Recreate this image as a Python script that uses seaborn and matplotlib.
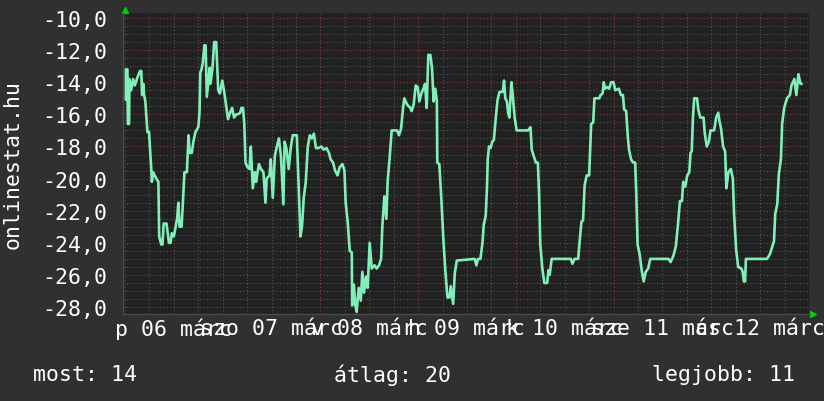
import matplotlib
matplotlib.use("Agg")
import matplotlib.pyplot as plt
import seaborn as sns
import numpy as np
import pandas as pd

# hours since 2015-03-06 00:00 and temperature (°C)
hours = [0.2, 0.2, 0.6, 0.7, 1.0, 1.1, 1.5, 2.0, 2.4, 3.2, 3.7, 4.0, 4.2, 4.5, 4.7, 5.0,
         5.5, 5.9, 6.5, 6.6, 6.9, 7.7, 8.2, 8.4, 8.9, 9.2, 9.5, 10.2, 10.8, 11.2, 11.5,
         12.0, 12.8, 13.1, 13.4, 13.9, 14.2, 14.6, 15.2, 15.6, 15.9, 16.4, 16.8, 17.3,
         18.0, 18.3, 18.5, 18.8, 19.1, 19.5, 19.8, 20.1, 20.8, 21.0, 21.5, 21.9, 22.4,
         22.9, 23.3, 23.9, 24.3, 24.7, 25.3, 25.8, 26.3, 26.8, 27.3, 27.7, 28.3, 28.6,
         29.0, 29.3, 29.6, 30.1, 30.6, 30.9, 31.4, 31.9, 32.2, 32.5, 32.9, 33.4, 34.0,
         34.5, 34.8, 35.5, 35.8, 36.3, 36.8, 37.3, 37.8, 38.3, 38.9, 39.2, 39.7, 40.2,
         40.7, 41.2, 42.2, 42.7, 43.1, 43.5, 43.9, 44.4, 44.9, 45.4, 45.9, 46.4, 46.9,
         47.5, 48.2, 48.8, 49.5, 50.1, 50.5, 51.1, 51.6, 52.2, 52.7, 53.4, 53.9, 54.2,
         54.7, 55.2, 55.7, 55.8, 56.2, 56.6, 56.9, 57.4, 57.9, 58.3, 58.7, 59.2, 59.6,
         60.1, 60.6, 61.3, 61.8, 62.4, 62.9, 63.2, 63.7, 64.2, 64.5, 65.0, 65.5, 66.8,
         67.3, 67.8, 68.3, 68.6, 69.3, 70.1, 70.4, 70.9, 71.4, 71.9, 72.3, 72.8, 73.3,
         73.7, 74.1, 74.5, 75.0, 75.4, 75.8, 76.2, 76.6, 76.7, 77.2, 77.7, 78.2, 78.7,
         79.2, 79.7, 80.0, 80.6, 81.0, 81.5, 85.9, 86.3, 86.7, 87.3, 87.8, 88.1, 88.6,
         88.9, 89.1, 89.4, 89.8, 90.2, 90.6, 91.0, 91.5, 92.0, 92.8, 93.1, 93.4, 93.8,
         94.1, 94.4, 94.9, 95.2, 95.7, 96.2, 99.0, 99.6, 99.9, 100.4, 100.9, 101.4,
         101.7, 102.0, 102.5, 103.0, 103.7, 104.0, 104.3, 104.8, 109.5, 109.9, 110.4,
         111.3, 111.6, 112.1, 112.5, 112.9, 113.4, 114.0, 114.5, 115.0, 115.3, 116.5,
         116.8, 117.3, 117.6, 117.9, 118.4, 118.9, 119.4, 120.0, 120.4, 121.3, 121.8,
         122.3, 122.6, 123.1, 123.5, 123.8, 124.3, 124.8, 125.3, 125.6, 125.9, 126.4,
         126.9, 127.4, 127.9, 128.5, 129.0, 133.5, 134.0, 134.7, 135.3, 135.8, 136.3,
         136.8, 137.1, 137.6, 138.1, 138.6, 138.9, 139.2, 139.5, 139.8, 140.5, 140.8,
         141.3, 142.1, 142.4, 142.9, 143.4, 143.8, 144.7, 145.2, 145.7, 146.0, 146.4,
         146.9, 147.4, 147.7, 148.2, 148.8, 149.3, 149.6, 150.1, 150.6, 151.4, 151.7,
         152.0, 152.3, 152.5, 157.7, 158.4, 158.9, 159.4, 159.7, 160.2, 160.6, 161.1,
         161.4, 161.9, 162.6, 163.3, 163.7, 164.4, 164.9, 165.4, 165.9, 166.2]
temps = [-15.1, -13.2, -13.2, -16.6, -16.6, -13.8, -14.5, -13.8, -14.2, -13.6, -13.3,
         -13.3, -14.8, -14.1, -14.8, -15.2, -17.1, -17.1, -19.6, -20.2, -19.6, -20.0,
         -20.2, -23.6, -24.1, -24.1, -22.8, -22.8, -24.0, -24.0, -23.4, -23.6, -22.5,
         -21.5, -23.0, -23.0, -21.6, -19.6, -19.6, -17.3, -18.4, -18.4, -17.7, -17.1,
         -16.8, -15.9, -13.4, -13.2, -12.8, -11.7, -11.7, -14.9, -13.1, -14.1, -13.1,
         -11.5, -11.5, -14.5, -14.7, -13.9, -14.5, -15.2, -16.3, -15.9, -15.6, -16.2,
         -16.0, -16.0, -15.9, -15.6, -15.6, -16.6, -19.0, -19.3, -19.4, -18.0, -20.6,
         -19.6, -20.2, -19.7, -19.1, -19.4, -19.6, -21.5, -20.0, -19.8, -18.8, -21.2,
         -18.6, -18.0, -17.5, -18.6, -21.6, -17.7, -18.2, -19.4, -18.1, -17.3, -17.3,
         -20.9, -23.6, -22.9, -21.2, -20.2, -18.0, -17.3, -17.5, -17.2, -18.1, -18.1,
         -18.0, -18.2, -18.1, -18.4, -18.8, -19.0, -19.5, -19.8, -19.3, -19.1, -19.5,
         -21.5, -22.7, -24.5, -24.6, -27.9, -26.6, -27.9, -28.3, -26.8, -27.6, -25.8,
         -27.1, -26.1, -26.8, -24.0, -25.6, -25.4, -25.6, -25.4, -25.0, -23.0, -21.1,
         -22.5, -20.2, -18.7, -17.0, -17.0, -17.3, -16.9, -15.6, -15.0, -15.4, -15.6,
         -15.8, -15.4, -14.2, -14.3, -15.2, -14.7, -14.4, -14.1, -15.6, -12.3, -12.3,
         -13.1, -15.2, -14.4, -15.2, -19.0, -19.1, -21.3, -23.8, -25.8, -27.4, -27.4,
         -26.7, -27.8, -25.9, -25.1, -25.0, -25.4, -25.0, -25.0, -24.0, -22.9, -22.3,
         -20.6, -18.8, -18.0, -18.1, -17.7, -17.6, -16.4, -15.1, -14.6, -14.6, -13.9,
         -15.0, -15.2, -15.9, -16.2, -14.0, -14.7, -16.2, -17.0, -17.0, -16.8, -18.2,
         -18.6, -19.0, -19.0, -20.9, -24.1, -25.6, -26.5, -26.5, -25.7, -26.0, -25.0,
         -25.0, -25.3, -25.0, -25.0, -24.1, -22.7, -22.6, -20.4, -19.8, -19.8, -16.6,
         -16.5, -15.0, -15.0, -14.8, -14.7, -14.0, -14.4, -14.3, -14.4, -14.0, -14.0,
         -14.5, -14.4, -14.8, -14.8, -15.7, -15.8, -17.4, -18.2, -18.8, -19.0, -19.0,
         -21.1, -24.1, -24.7, -25.7, -26.4, -25.8, -25.6, -25.0, -25.0, -25.2, -24.8,
         -24.2, -22.9, -21.4, -21.4, -20.2, -20.5, -19.8, -19.6, -18.4, -18.3, -16.2,
         -15.0, -15.0, -15.7, -16.2, -16.2, -17.2, -18.0, -17.7, -17.0, -17.0, -16.2,
         -15.9, -16.4, -16.9, -18.0, -18.3, -20.6, -19.6, -19.4, -20.0, -22.2, -24.4,
         -25.5, -25.6, -25.8, -26.4, -26.4, -25.0, -25.0, -24.7, -24.3, -23.9, -22.2,
         -21.6, -19.7, -18.8, -16.6, -15.6, -15.0, -14.8, -14.2, -13.8, -14.8, -13.5,
         -14.1, -14.1]

day_labels = ["p 06 márc", "szo 07 márc", "v 08 márc", "h 09 márc",
              "k 10 márc", "sze 11 márc", "cs 12 márc"]
y_ticks = [-28, -26, -24, -22, -20, -18, -16, -14, -12, -10]
y_labels = ["-28,0", "-26,0", "-24,0", "-22,0", "-20,0", "-18,0", "-16,0",
            "-14,0", "-12,0", "-10,0"]
summary = ["most: 14", "átlag: 20", "legjobb: 11"]

BG = "#303030"
CANVAS = "#212121"
LINE = "#80f0b8"

sns.set_theme(style="dark", rc={"figure.facecolor": BG, "axes.facecolor": CANVAS,
                                "savefig.facecolor": BG})
plt.rcParams["font.family"] = ["DejaVu Sans Mono"]

fig = plt.figure(figsize=(8.24, 4.02), dpi=100)
ax = fig.add_axes([123 / 824, 1 - 315 / 402, 686 / 824, 301 / 402])

df = pd.DataFrame({"hour": hours, "temp": temps})
sns.lineplot(data=df, x="hour", y="temp", color=LINE, linewidth=1.9,
             estimator=None, sort=False, ax=ax)

ax.set_xlim(-0.49, 167.0)
ax.set_ylim(-28.43, -9.69)

# grid: minor grey, major dim red, all dotted
ax.set_yticks(y_ticks)
ax.set_yticklabels(y_labels)
ax.set_yticks(np.arange(-28.0, -9.5, 0.5), minor=True)
ax.set_xticks(np.arange(0, 169, 24))
ax.set_xticklabels([])
ax.set_xticks(np.arange(0, 169, 6), minor=True)
ax.grid(True, which="minor", color="#555555", linestyle=(0, (1, 2)), linewidth=0.8)
ax.grid(True, which="major", color="#8a3a3a", linestyle=(0, (1, 2)), linewidth=0.8)

ax.tick_params(axis="y", which="both", length=0, pad=11, labelsize=15.5,
               labelcolor="white")
ax.tick_params(axis="x", which="major", length=3, color="#8a3a3a", width=1)
ax.tick_params(axis="x", which="minor", length=2, color="#555555", width=1)

for i, lab in enumerate(day_labels):
    ax.text(12 + 24 * i, -0.048, lab, transform=ax.get_xaxis_transform(),
            ha="center", va="center", fontsize=15.5, color="white", clip_on=False)

ax.set_xlabel("")
ax.set_ylabel("")
for side in ["top", "right"]:
    ax.spines[side].set_visible(False)
for side in ["left", "bottom"]:
    ax.spines[side].set_color("#4a4a4a")
    ax.spines[side].set_linewidth(1)

# little green arrows at the axis ends
ax.plot([0.003], [1.01], marker="^", color="#00d000", markersize=5,
        transform=ax.transAxes, clip_on=False)
ax.plot([1.006], [0.0], marker=">", color="#00d000", markersize=5,
        transform=ax.transAxes, clip_on=False)

fig.text(13 / 824, 1 - 164.5 / 402, "onlinestat.hu", rotation=90, ha="center",
         va="center", fontsize=15.5, color="white")

fig.text(33 / 824, 1 - 375 / 402, summary[0], ha="left", va="center",
         fontsize=15.5, color="white")
fig.text(334 / 824, 1 - 375 / 402, summary[1], ha="left", va="center",
         fontsize=15.5, color="white")
fig.text(652 / 824, 1 - 375 / 402, summary[2], ha="left", va="center",
         fontsize=15.5, color="white")

fig.savefig("out.png", dpi=100)
